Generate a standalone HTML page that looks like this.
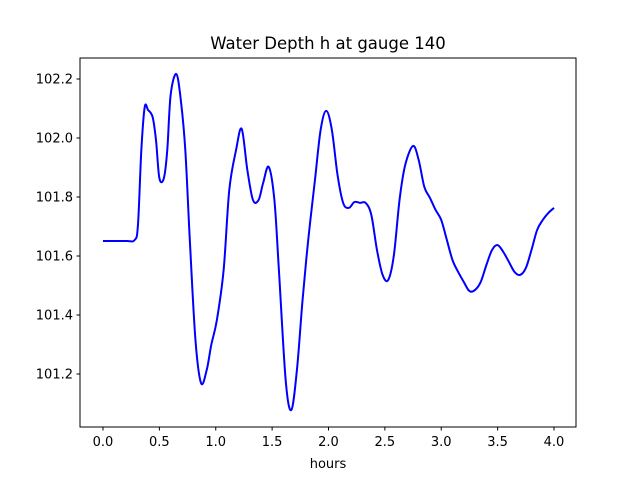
<!DOCTYPE html>
<html><head><meta charset="utf-8"><style>
body{margin:0;background:#fff;}
svg{display:block;font-family:"DejaVu Sans","Liberation Sans",sans-serif;}
</style></head><body>
<svg id="chart" width="640" height="480" xmlns="http://www.w3.org/2000/svg">
<rect width="640" height="480" fill="#fff"/>
<text x="328" y="49" text-anchor="middle" font-size="16.5">Water Depth h at gauge 140</text>
<text x="328" y="468" text-anchor="middle" font-size="13">hours</text>
<g id="ticks"></g>
<path id="line" fill="none" stroke="#0000ff" stroke-width="2"/>
<rect x="80" y="58" width="496" height="369" fill="none" stroke="#000" stroke-width="1"/>
</svg>
<script>
const hours=[0,0.2,0.28,0.31,0.34,0.37,0.4,0.44,0.47,0.5,0.54,0.57,0.6,0.65,0.69,0.73,0.77,0.82,0.87,0.92,0.96,1.01,1.07,1.12,1.18,1.23,1.28,1.33,1.38,1.42,1.47,1.52,1.56,1.62,1.67,1.72,1.77,1.82,1.88,1.93,1.98,2.03,2.08,2.13,2.18,2.23,2.28,2.33,2.38,2.43,2.48,2.53,2.58,2.63,2.68,2.75,2.8,2.85,2.9,2.95,3.0,3.05,3.1,3.15,3.2,3.25,3.3,3.35,3.4,3.45,3.5,3.55,3.6,3.65,3.7,3.75,3.8,3.85,3.9,3.95,4.0];
const depth=[101.651,101.651,101.654,101.705,101.959,102.105,102.095,102.071,101.993,101.864,101.864,101.959,102.146,102.217,102.129,101.959,101.654,101.315,101.169,101.214,101.298,101.383,101.553,101.824,101.959,102.031,101.892,101.790,101.790,101.847,101.902,101.790,101.553,101.180,101.078,101.214,101.451,101.654,101.858,102.027,102.092,102.027,101.875,101.780,101.763,101.783,101.780,101.780,101.739,101.620,101.536,101.519,101.603,101.790,101.908,101.973,101.925,101.834,101.797,101.756,101.722,101.654,101.586,101.546,101.512,101.481,101.485,101.512,101.569,101.620,101.637,101.614,101.580,101.546,101.536,101.559,101.620,101.688,101.722,101.746,101.763];
const xTicks=[0,0.5,1.0,1.5,2.0,2.5,3.0,3.5,4.0];
const yTicks=[101.2,101.4,101.6,101.8,102.0,102.2];
const xs=v=>103+v*112.75;
const ys=v=>79+(102.2-v)*295;
const NS="http://www.w3.org/2000/svg";
const g=document.getElementById('ticks');
xTicks.forEach(t=>{
  const l=document.createElementNS(NS,'line');
  
  
  l.setAttribute('x1',xs(t));l.setAttribute('x2',xs(t));l.setAttribute('y1',427);l.setAttribute('y2',430.5);l.setAttribute('stroke','#000');g.appendChild(l);
  const tx=document.createElementNS(NS,'text');
  
  
  tx.setAttribute('x',xs(t));tx.setAttribute('y',446);tx.setAttribute('text-anchor','middle');tx.setAttribute('font-size','13');tx.textContent=t.toFixed(1);g.appendChild(tx);
});
yTicks.forEach(t=>{
  const l=document.createElementNS(NS,'line');
  
  
  l.setAttribute('x1',76.5);l.setAttribute('x2',80);l.setAttribute('y1',ys(t));l.setAttribute('y2',ys(t));l.setAttribute('stroke','#000');g.appendChild(l);
  const tx=document.createElementNS(NS,'text');
  
  
  tx.setAttribute('x',73);tx.setAttribute('y',ys(t)+4.5);tx.setAttribute('text-anchor','end');tx.setAttribute('font-size','13');tx.textContent=t.toFixed(1);g.appendChild(tx);
});
const P=hours.map((h,i)=>[xs(h),ys(depth[i])]);
let d='M'+P[0][0]+' '+P[0][1];
for(let i=0;i<P.length-1;i++){
  const p0=P[Math.max(0,i-1)],p1=P[i],p2=P[i+1],p3=P[Math.min(P.length-1,i+2)];
  const c1x=p1[0]+(p2[0]-p0[0])/6,c1y=p1[1]+(p2[1]-p0[1])/6;
  const c2x=p2[0]-(p3[0]-p1[0])/6,c2y=p2[1]-(p3[1]-p1[1])/6;
  d+=` C${c1x} ${c1y} ${c2x} ${c2y} ${p2[0]} ${p2[1]}`;
}
document.getElementById('line').setAttribute('d',d);
</script>
</body></html>
